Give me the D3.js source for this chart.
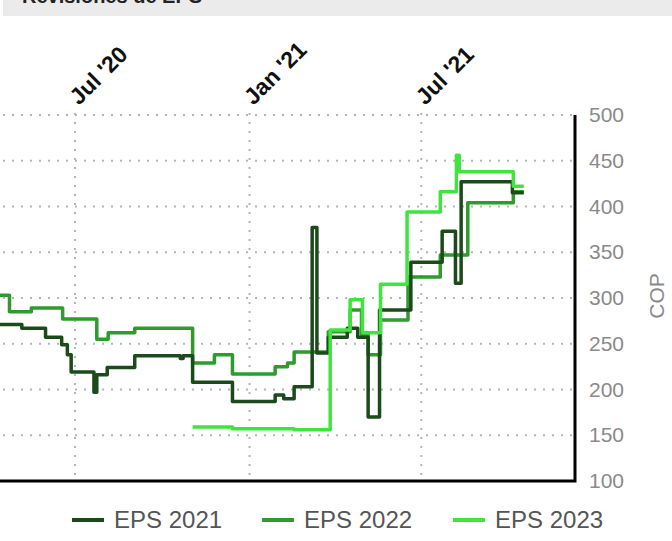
<!DOCTYPE html>
<html>
<head>
<meta charset="utf-8">
<script src="https://cdn.jsdelivr.net/npm/d3@7"></script>
<style>
  html, body { margin: 0; padding: 0; background: #fff; }
  #wrapper { width: 672px; height: 541px; overflow: hidden; }
</style>
</head>
<body>
<div id="wrapper"></div>
<script>
// series names and colours
const seriesNames = ["EPS 2021", "EPS 2022", "EPS 2023"];
const seriesColors = ["#1b4a1b", "#2f9a2f", "#3fe43f"];

// dates where the estimate changed and the new value
const eps2021Dates = ["2020-04-01", "2020-05-06", "2020-05-31", "2020-06-17", "2020-06-23", "2020-06-27",
  "2020-07-21", "2020-07-24", "2020-08-04", "2020-09-02", "2020-10-20", "2020-10-23", "2020-11-02",
  "2020-12-14", "2021-01-28", "2021-02-06", "2021-02-17", "2021-03-08", "2021-03-13", "2021-03-25",
  "2021-04-14", "2021-04-25", "2021-05-06", "2021-05-18", "2021-06-20", "2021-07-23", "2021-08-06",
  "2021-08-12", "2021-10-05", "2021-10-17"];
const eps2021Values = [271, 267, 257, 249, 238, 219,
  197, 216, 224, 237, 234, 237, 208,
  187, 194, 190, 203, 377, 240, 257,
  267, 257, 170, 287, 339, 373, 316,
  427, 415, 415];

const eps2022Dates = ["2020-04-01", "2020-04-23", "2020-05-16", "2020-06-18", "2020-07-24", "2020-08-05",
  "2020-09-02", "2020-11-02", "2020-11-25", "2020-12-14", "2021-01-28", "2021-02-10", "2021-02-17",
  "2021-03-25", "2021-04-17", "2021-04-29", "2021-05-06", "2021-05-19", "2021-06-17", "2021-07-21",
  "2021-08-19", "2021-10-06", "2021-10-17"];
const eps2022Values = [303, 285, 289, 277, 255, 262,
  267, 229, 238, 217, 225, 229, 241,
  263, 287, 260, 238, 276, 323, 347,
  404, 416, 416];

const eps2023Dates = ["2020-11-02", "2020-12-14", "2021-02-17", "2021-03-27", "2021-04-17", "2021-04-30",
  "2021-05-19", "2021-06-16", "2021-07-21", "2021-08-07", "2021-08-10", "2021-10-06", "2021-10-17"];
const eps2023Values = [159, 157, 156, 265, 298, 262,
  315, 394, 416, 456, 438, 422, 422];

const yTicks = [100, 150, 200, 250, 300, 350, 400, 450, 500];
const xTickDates = ["2020-07-01", "2021-01-01", "2021-07-01"];
const xTickLabels = ["Jul '20", "Jan '21", "Jul '21"];

const parseDate = d3.timeParse("%Y-%m-%d");

function drawChart() {

    const dms = {
        width: 672,
        height: 541,
        plotLeft: 0,
        plotRight: 575,
        plotTop: 115,
        plotBottom: 481
    };

    const svg = d3.select("#wrapper")
                    .append("svg")
                        .attr("width", dms.width)
                        .attr("height", dms.height)
                        .style("font-family", "Arial, 'Liberation Sans', sans-serif");

    // title bar (cut off at top, like the screenshot)
    svg.append("rect")
        .attr("x", 3).attr("y", -5)
        .attr("width", dms.width).attr("height", 21)
        .attr("fill", "#ebebeb");
    svg.append("text")
        .attr("x", 22).attr("y", 3)
        .attr("font-weight", "bold")
        .attr("font-size", "20px")
        .attr("fill", "#222")
        .text("Revisiones de EPS");

    // scales
    const xScale = d3.scaleTime()
                    .domain([parseDate("2020-04-13"), parseDate("2021-12-10")])
                    .range([dms.plotLeft, dms.plotRight]);

    const yScale = d3.scaleLinear()
                    .domain([100, 500])
                    .range([dms.plotBottom, dms.plotTop]);

    // grid
    const grid = svg.append("g")
                    .attr("stroke", "#b5b5b5")
                    .attr("stroke-width", 2)
                    .attr("stroke-dasharray", "2 7");

    grid.selectAll(".hgrid")
        .data(yTicks.filter(d => d > 100))
        .join("line")
            .attr("x1", dms.plotLeft + 3)
            .attr("x2", dms.plotRight)
            .attr("y1", d => yScale(d))
            .attr("y2", d => yScale(d));

    grid.selectAll(".vgrid")
        .data(xTickDates)
        .join("line")
            .attr("x1", d => xScale(parseDate(d)))
            .attr("x2", d => xScale(parseDate(d)))
            .attr("y1", dms.plotTop - 2)
            .attr("y2", dms.plotBottom);

    // lines
    const lineGen = d3.line()
                    .x(d => xScale(d.date))
                    .y(d => yScale(d.value))
                    .curve(d3.curveStepAfter);

    const series = [
        { name: seriesNames[0], color: seriesColors[0], dates: eps2021Dates, values: eps2021Values },
        { name: seriesNames[1], color: seriesColors[1], dates: eps2022Dates, values: eps2022Values },
        { name: seriesNames[2], color: seriesColors[2], dates: eps2023Dates, values: eps2023Values }
    ];

    svg.append("clipPath")
        .attr("id", "plotClip")
        .append("rect")
            .attr("x", dms.plotLeft).attr("y", dms.plotTop - 10)
            .attr("width", dms.plotRight - dms.plotLeft)
            .attr("height", dms.plotBottom - dms.plotTop + 10);

    const linesGroup = svg.append("g").attr("clip-path", "url(#plotClip)");

    [series[1], series[0], series[2]].forEach(s => {
        const points = s.dates.map((d, i) => ({ date: parseDate(d), value: s.values[i] }));
        linesGroup.append("path")
            .datum(points)
            .attr("fill", "none")
            .attr("stroke", s.color)
            .attr("stroke-width", 3.5)
            .attr("stroke-linejoin", "round")
            .attr("d", lineGen);
    });

    // axes
    const yAxis = svg.append("g")
                    .attr("transform", `translate(${dms.plotRight}, 0)`)
                    .call(d3.axisRight(yScale).tickValues(yTicks).tickSize(0).tickPadding(14));
    yAxis.select(".domain").remove();
    yAxis.selectAll("text")
        .attr("fill", "#8a8a8a")
        .style("font-size", "21px");

    svg.append("path")
        .attr("d", `M${dms.plotLeft},${dms.plotBottom}H${dms.plotRight}V${dms.plotTop}`)
        .attr("fill", "none")
        .attr("stroke", "#000")
        .attr("stroke-width", 3);

    svg.append("text")
        .attr("transform", `translate(664, ${(dms.plotTop + dms.plotBottom) / 2 - 2}) rotate(-90)`)
        .attr("text-anchor", "middle")
        .attr("fill", "#8a8a8a")
        .style("font-size", "21px")
        .text("COP");

    const xLabels = svg.append("g");
    xLabels.selectAll("text")
        .data(xTickDates)
        .join("text")
            .attr("transform", d => `translate(${xScale(parseDate(d)) + 4}, ${dms.plotTop - 9}) rotate(-45)`)
            .attr("font-weight", "bold")
            .attr("fill", "#111")
            .style("font-size", "23px")
            .text((d, i) => xTickLabels[i]);

    // legend
    const legendX = [72, 262, 453];
    const legend = svg.append("g");
    const items = legend.selectAll("g")
                    .data(series)
                    .join("g")
                        .attr("transform", (d, i) => `translate(${legendX[i]}, 520)`);
    items.append("line")
        .attr("x1", 0).attr("x2", 32)
        .attr("stroke", d => d.color)
        .attr("stroke-width", 4);
    items.append("text")
        .attr("x", 42).attr("y", 8)
        .attr("fill", "#555")
        .style("font-size", "24px")
        .text(d => d.name);
}

drawChart();
</script>
</body>
</html>
